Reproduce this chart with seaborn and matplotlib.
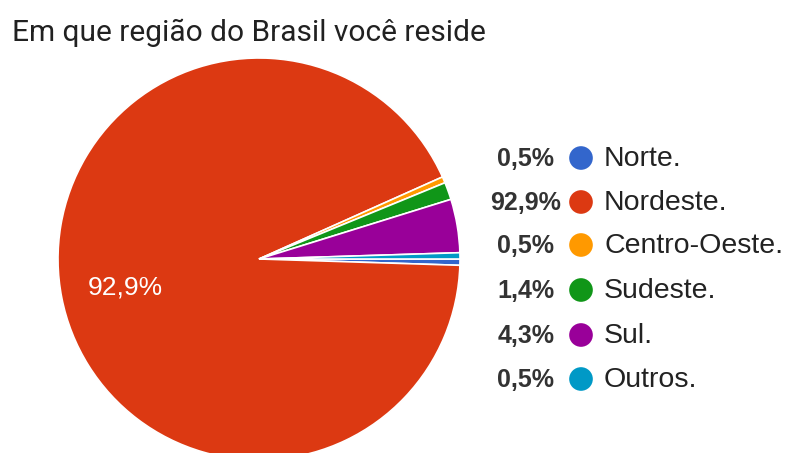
import matplotlib
matplotlib.use("Agg")
import matplotlib.pyplot as plt
import seaborn as sns

categories = ["Norte.", "Nordeste.", "Centro-Oeste.", "Sudeste.", "Sul.", "Outros."]
values = [0.5, 92.9, 0.5, 1.4, 4.3, 0.5]
pct_labels = ["0,5%", "92,9%", "0,5%", "1,4%", "4,3%", "0,5%"]
colors = ["#3366cc", "#dc3912", "#ff9900", "#109618", "#990099", "#0099c6"]
title = "Em que região do Brasil você reside"

sns.set_theme(style="white")
plt.rcParams["font.family"] = ["Liberation Sans", "DejaVu Sans"]
palette = sns.color_palette(colors)

W, H = 785, 453
fig = plt.figure(figsize=(W / 100, H / 100), dpi=100)
fig.patch.set_facecolor("white")

cx, cy, r = 259, 259, 201
ax = fig.add_axes([(cx - r) / W, (H - cy - r) / H, 2 * r / W, 2 * r / H])
wedges, _ = ax.pie(values, colors=palette, startangle=0, counterclock=False,
                   wedgeprops=dict(edgecolor="white", linewidth=1.2))
ax.set_xlim(-1, 1)
ax.set_ylim(-1, 1)
ax.set_aspect("equal")
for w in wedges:
    w.set_clip_on(False)
ax.text(-0.665, -0.14, pct_labels[1], color="white", fontsize=19, ha="center", va="center")

# title
fig.text(12 / W, 1 - 33 / H, title, fontsize=21.5, color="#212121", ha="left", va="center",
         family=["Roboto", "DejaVu Sans"])

# legend
lax = fig.add_axes([0, 0, 1, 1])
lax.set_xlim(0, W)
lax.set_ylim(H, 0)
lax.axis("off")
rows = [158, 202, 245, 290, 335, 379]
lax.scatter([581] * len(rows), rows, s=290, c=palette, linewidths=0, zorder=3)
for y, lab, pct in zip(rows, categories, pct_labels):
    lax.text(526, y + 1, pct, fontsize=18, fontweight="bold", color="#333333", ha="center", va="center")
    lax.text(604, y + 1, lab, fontsize=20.5, color="#222222", ha="left", va="center")

fig.savefig("out.png", dpi=100, facecolor="white")
